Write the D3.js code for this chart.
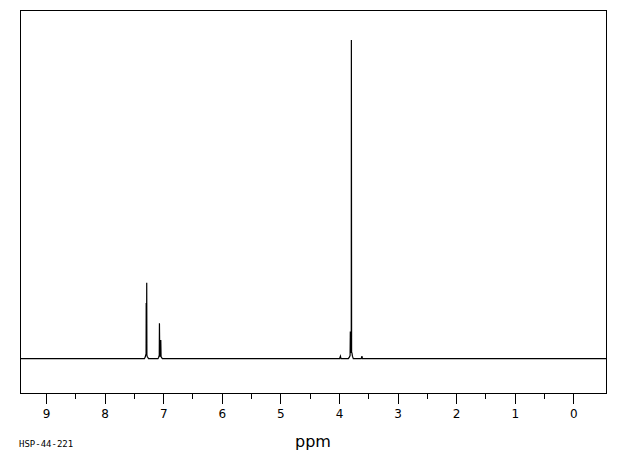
<!DOCTYPE html>
<html>
<head>
<meta charset="utf-8">
<script src="https://cdn.jsdelivr.net/npm/d3@7"></script>
<style>
html,body{margin:0;padding:0;background:#fff;}
svg{display:block;}
</style>
</head>
<body>
<div id="chart"></div>
<script>
// Spectrum trace: chemical shift (ppm) and relative intensity
const tracePpm = [9.444, 7.32, 7.305, 7.298, 7.292, 7.290, 7.288, 7.284, 7.281, 7.278, 7.272, 7.262, 7.25,
  7.09, 7.078, 7.072, 7.067, 7.064, 7.058, 7.050, 7.044, 7.041, 7.036, 7.028, 7.015,
  3.99, 3.975, 3.965, 3.84, 3.825, 3.81, 3.806, 3.802, 3.797, 3.790, 3.788, 3.784, 3.778, 3.770, 3.755,
  3.62, 3.608, 3.598, -0.558];
const traceInt = [0, 0, 0.006, 0.012, 0.012, 0.175, 0.012, 0.012, 0.2385, 0.012, 0.006, 0.004, 0,
  0, 0.004, 0.008, 0.008, 0.111, 0.008, 0.008, 0.008, 0.059, 0.006, 0.004, 0,
  0, 0.008, 0, 0, 0.004, 0.01, 0.085, 0.02, 0.02, 0.02, 1.0, 0.02, 0.018, 0.008, 0,
  0, 0.008, 0, 0];

const majorTicks = [9, 8, 7, 6, 5, 4, 3, 2, 1, 0];
const minorTicks = [8.5, 7.5, 6.5, 5.5, 4.5, 3.5, 2.5, 1.5, 0.5];
const xTitle = "ppm";
const sampleId = "HSP-44-221";

const W = 620, H = 455;
const svg = d3.select("#chart").append("svg").attr("width", W).attr("height", H);

const mL = 20, mR = 606, mT = 10, mB = 393;
const x = d3.scaleLinear().domain([9.444, -0.558]).range([mL, mR]);
const y = d3.scaleLinear().domain([-0.1076, 1.094]).range([mB, mT]);

// frame
svg.append("rect").attr("x", mL + 0.5).attr("y", mT + 0.5)
  .attr("width", mR - mL).attr("height", mB - mT)
  .attr("fill", "none").attr("stroke", "#000").attr("stroke-width", 1.4)
  .attr("shape-rendering", "crispEdges");

// axis
const axisG = svg.append("g").attr("transform", `translate(0,${mB + 0.5})`);
const major = d3.axisBottom(x).tickValues(majorTicks).tickSize(10).tickPadding(6).tickFormat(d3.format("d"));
axisG.call(major);
axisG.select(".domain").remove();
axisG.selectAll(".tick line").attr("stroke", "#000").attr("stroke-width", 1).attr("shape-rendering", "crispEdges");
axisG.selectAll(".tick text").attr("font-family", "DejaVu Sans, sans-serif").attr("font-size", 12).attr("fill", "#000");

const minorG = svg.append("g").attr("transform", `translate(0,${mB + 0.5})`);
minorG.call(d3.axisBottom(x).tickValues(minorTicks).tickSize(5).tickFormat(""));
minorG.select(".domain").remove();
minorG.selectAll(".tick line").attr("stroke", "#000").attr("stroke-width", 1).attr("shape-rendering", "crispEdges");

// trace
const pts = tracePpm.map((p, i) => [p, traceInt[i]]);
const line = d3.line().x(d => x(d[0])).y(d => y(d[1]));
svg.append("path").datum(pts).attr("d", line)
  .attr("fill", "none").attr("stroke", "#000").attr("stroke-width", 1.2);

// titles
svg.append("text").attr("x", 313).attr("y", 447).attr("text-anchor", "middle")
  .attr("font-family", "DejaVu Sans, sans-serif").attr("font-size", 16)
  .attr("fill", "#000").text(xTitle);
svg.append("text").attr("x", 19).attr("y", 447)
  .attr("font-family", "DejaVu Sans Mono, monospace").attr("font-size", 9)
  .attr("fill", "#000").text(sampleId);
</script>
</body>
</html>
